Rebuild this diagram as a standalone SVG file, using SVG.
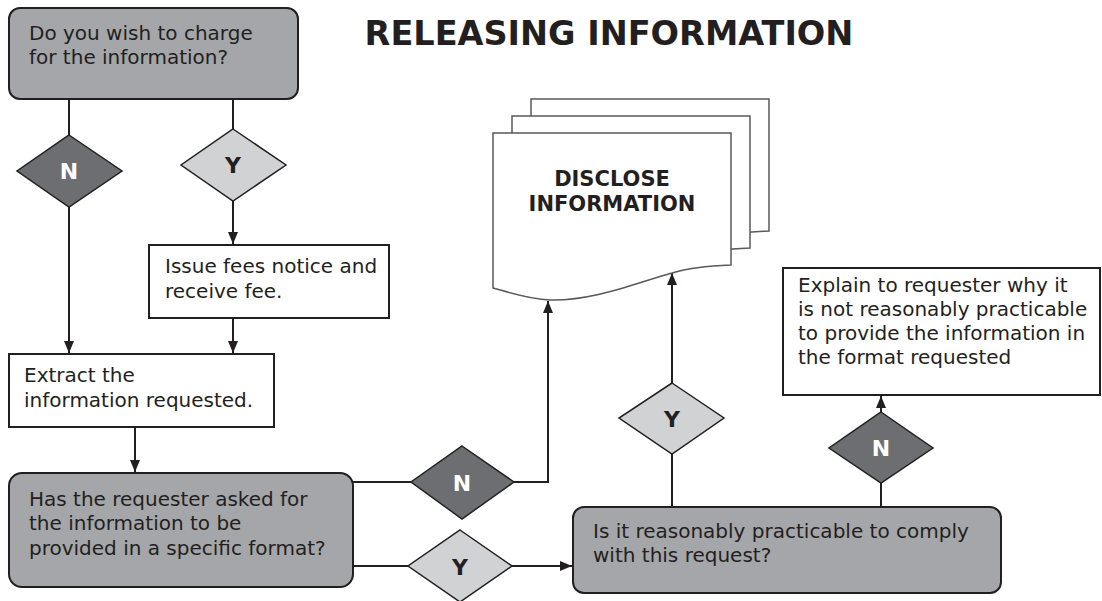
<svg xmlns="http://www.w3.org/2000/svg" width="1102" height="601" viewBox="0 0 1102 601">
  <style>
    .txt { font-family: "DejaVu Sans", Verdana, sans-serif; font-size: 20px; fill: #231f20; }
    .bold { font-family: "DejaVu Sans", Verdana, sans-serif; font-weight: bold; fill: #231f20; }
    .q { fill: #a5a6a9; stroke: #231f20; stroke-width: 2; }
    .box { fill: #ffffff; stroke: #231f20; stroke-width: 2; }
    .dN { fill: #6d6e71; stroke: #231f20; stroke-width: 1.5; }
    .dY { fill: #d1d2d4; stroke: #231f20; stroke-width: 1.5; }
    .lblN { font-family: "DejaVu Sans", Verdana, sans-serif; font-weight: bold; font-size: 22px; fill: #ffffff; text-anchor: middle; }
    .lblY { font-family: "DejaVu Sans", Verdana, sans-serif; font-weight: bold; font-size: 22px; fill: #231f20; text-anchor: middle; }
    .page { fill: #ffffff; stroke: #58595b; stroke-width: 1.5; }
    .wire { fill: none; stroke: #231f20; stroke-width: 2; }
  </style>
  <defs>
    <marker id="arrow" viewBox="0 0 12 10" refX="12" refY="5" markerWidth="6" markerHeight="5" orient="auto" markerUnits="strokeWidth">
      <path d="M0,0 L12,5 L0,10 Z" fill="#231f20"/>
    </marker>
    <path id="sheet" d="M0,0 L238,0 L238,132 C210,133 195,135 179,140 C140,151 100,168 57,167 C35,166 15,159 0,155 Z"/>
  </defs>

  <!-- title -->
  <text class="bold" x="609" y="45" font-size="33.5" text-anchor="middle">RELEASING INFORMATION</text>

  <!-- connectors -->
  <g id="connectors">
    <path class="wire" d="M69,99 V135"/>
    <path class="wire" d="M69,207 V353" marker-end="url(#arrow)"/>
    <path class="wire" d="M233,99 V129"/>
    <path class="wire" d="M233,201 V244" marker-end="url(#arrow)"/>
    <path class="wire" d="M233,318 V353" marker-end="url(#arrow)"/>
    <path class="wire" d="M135,427 V472" marker-end="url(#arrow)"/>
    <path class="wire" d="M353,482 H411"/>
    <path class="wire" d="M514,482 H548 V301" marker-end="url(#arrow)"/>
    <path class="wire" d="M353,566 H408"/>
    <path class="wire" d="M512,566 H572" marker-end="url(#arrow)"/>
    <path class="wire" d="M672,507 V454"/>
    <path class="wire" d="M672,383 V273" marker-end="url(#arrow)"/>
    <path class="wire" d="M881,507 V483"/>
    <path class="wire" d="M881,412 V396" marker-end="url(#arrow)"/>
  </g>

  <!-- Do you wish to charge -->
  <g id="charge">
    <rect class="q" x="9" y="8" width="289" height="91" rx="11"/>
    <text class="txt" x="29" y="40">Do you wish to charge</text>
    <text class="txt" x="29" y="64">for the information?</text>
  </g>

  <g id="charge-no">
    <polygon class="dN" points="69,135 122,171 69,207 17,171"/>
    <text class="lblN" x="69" y="179">N</text>
  </g>
  <g id="charge-yes">
    <polygon class="dY" points="233,129 286,165 233,201 181,165"/>
    <text class="lblY" x="233" y="173">Y</text>
  </g>

  <!-- fees -->
  <g id="fees">
    <rect class="box" x="149" y="245" width="240" height="73"/>
    <text class="txt" x="165" y="273">Issue fees notice and</text>
    <text class="txt" x="165" y="298">receive fee.</text>
  </g>

  <!-- extract -->
  <g id="extract">
    <rect class="box" x="9" y="354" width="265" height="73"/>
    <text class="txt" x="24" y="382">Extract the</text>
    <text class="txt" x="24" y="407">information requested.</text>
  </g>

  <!-- format question -->
  <g id="format">
    <rect class="q" x="9" y="473" width="344" height="114" rx="13"/>
    <text class="txt" x="29" y="506">Has the requester asked for</text>
    <text class="txt" x="29" y="530">the information to be</text>
    <text class="txt" x="29" y="555">provided in a specific format?</text>
  </g>

  <g id="format-no">
    <polygon class="dN" points="462,446 514,482 462,519 411,482"/>
    <text class="lblN" x="462" y="491">N</text>
  </g>
  <g id="format-yes">
    <polygon class="dY" points="460,530 512,566 460,602 408,566"/>
    <text class="lblY" x="460" y="575">Y</text>
  </g>

  <!-- disclose documents -->
  <g id="disclose">
    <use href="#sheet" class="page" x="531" y="99"/>
    <use href="#sheet" class="page" x="512" y="116"/>
    <use href="#sheet" class="page" x="493" y="133"/>
    <text class="bold" x="612" y="186" font-size="21" text-anchor="middle">DISCLOSE</text>
    <text class="bold" x="612" y="211" font-size="21" text-anchor="middle">INFORMATION</text>
  </g>

  <!-- practicable question -->
  <g id="practicable">
    <rect class="q" x="573" y="507" width="428" height="86" rx="11"/>
    <text class="txt" x="593" y="538">Is it reasonably practicable to comply</text>
    <text class="txt" x="593" y="562">with this request?</text>
  </g>

  <g id="practicable-yes">
    <polygon class="dY" points="672,383 724,418 672,454 619,418"/>
    <text class="lblY" x="672" y="427">Y</text>
  </g>
  <g id="practicable-no">
    <polygon class="dN" points="881,412 933,448 881,483 829,448"/>
    <text class="lblN" x="881" y="456">N</text>
  </g>

  <!-- explain -->
  <g id="explain">
    <rect class="box" x="783" y="268" width="317" height="127"/>
    <text class="txt" x="798" y="292">Explain to requester why it</text>
    <text class="txt" x="798" y="316">is not reasonably practicable</text>
    <text class="txt" x="798" y="340">to provide the information in</text>
    <text class="txt" x="798" y="364">the format requested</text>
  </g>
</svg>
